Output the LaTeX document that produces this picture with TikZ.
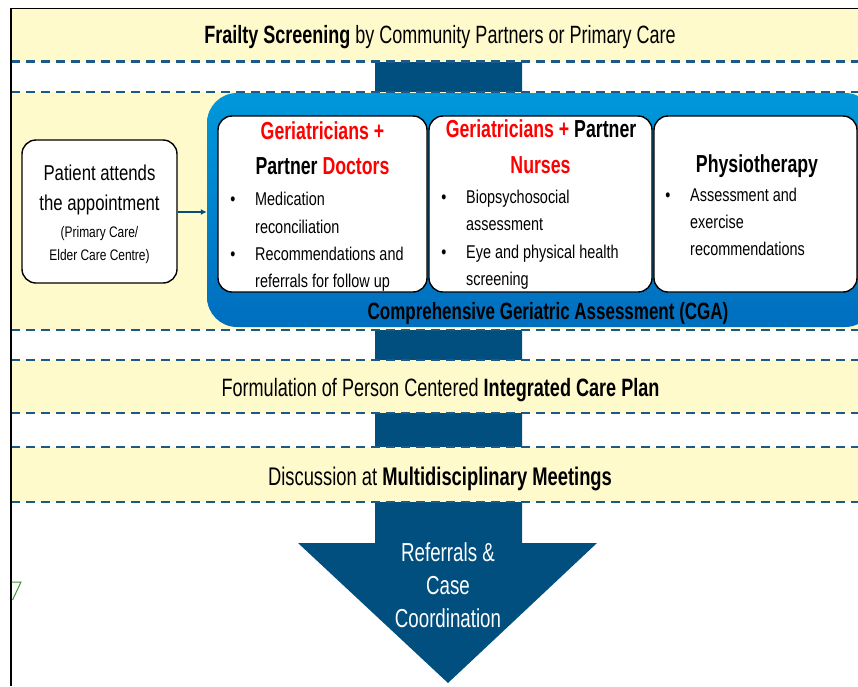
\documentclass[tikz,border=0pt]{standalone}
\usepackage{fontspec}
\setmainfont{Liberation Sans}[FakeStretch=0.72]
\newfontfamily\bodyfont{Liberation Sans}[FakeStretch=0.78]
\usetikzlibrary{arrows.meta}
\definecolor{bandyellow}{RGB}{255,250,204}
\definecolor{navy}{RGB}{0,79,127}
\definecolor{dashblue}{RGB}{28,88,136}
\definecolor{cgatop}{RGB}{0,152,218}
\definecolor{cgabot}{RGB}{0,110,190}
\definecolor{hred}{RGB}{255,0,0}
\definecolor{markgreen}{RGB}{60,150,50}
\tikzset{
  band/.style={fill=bandyellow, draw=none},
  dashline/.style={draw=dashblue, line width=2.5pt, dash pattern=on 9pt off 6pt},
  whitebox/.style={draw=black, line width=1.4pt, fill=white, rounded corners=14pt, inner sep=0},
  hdr/.style={font=\fontsize{24.6}{28}\selectfont\bfseries, inner sep=0, anchor=base},
  band text/.style={font=\fontsize{25}{28}\selectfont, inner sep=0, anchor=base},
  body/.style={font=\bodyfont\fontsize{18.5}{22}\selectfont, inner sep=0, anchor=base west},
  bul/.style={font=\bodyfont\fontsize{18.5}{22}\selectfont, inner sep=0, anchor=base},
  ptext/.style={font=\bodyfont\fontsize{21.5}{25}\selectfont, inner sep=0, anchor=base},
  psmall/.style={font=\bodyfont\fontsize{15.3}{18}\selectfont, inner sep=0, anchor=base},
  reftext/.style={font=\fontsize{26}{30}\selectfont, text=white, inner sep=0, anchor=base},
}
\begin{document}
\begin{tikzpicture}[x=1pt,y=-1pt]
\useasboundingbox (0,0) rectangle (858,686);
\clip (0,0) rectangle (858,686);
% big flow arrow
\path[fill=navy] (375,60) -- (522,60) -- (522,543) -- (597,543) -- (448,683) -- (298,543) -- (375,543) -- cycle;
% bands
\fill[band] (11,9) rectangle (858,61.5);
\fill[band] (11,92) rectangle (858,330);
\fill[band] (11,360) rectangle (858,413);
\fill[band] (11,447) rectangle (858,502);
% dashed borders
\foreach \yy in {61.5,92,330,360,413,447,502}
  \draw[dashline] (11,\yy) -- (858,\yy);
% frame
\draw[black, line width=1.3pt] (11,686) -- (11,8.5) -- (858,8.5);
% top band text
\node[band text] (frailty) at (440,43) {\textbf{Frailty Screening} by Community Partners or Primary Care};
% CGA container
\node[draw=none, rounded corners=30pt, top color=cgatop, bottom color=cgabot, minimum width=668pt, minimum height=234pt, inner sep=0] (cga) at (541,210) {};
\node[font=\fontsize{23.6}{27}\selectfont\bfseries, inner sep=0, anchor=base] (cgalabel) at (548,319.5) {Comprehensive Geriatric Assessment (CGA)};
% left box
\node[whitebox, minimum width=155pt, minimum height=143pt] (patient) at (99.5,211.5) {};
\node[ptext] (p1) at (99.5,180) {Patient attends};
\node[ptext] (p2) at (99.5,210.5) {the appointment};
\node[psmall] (p3) at (99.5,237) {(Primary Care/};
\node[psmall] (p4) at (99.5,260) {Elder Care Centre)};
\draw[navy, line width=1.3pt, -{Latex[length=6pt,width=6pt]}] (patient.east |- 0,212) -- (cga.west |- 0,212);
% box 1
\node[whitebox, minimum width=209pt, minimum height=176pt] (doc) at (322.5,204) {};
\node[hdr, text=hred] (doch1) at (322.5,139.5) {Geriatricians +};
\node[hdr] (doch2) at (322.5,174.5) {Partner \textcolor{hred}{Doctors}};
\node[bul] (db1) at (233,205.5) {\textbullet};
\node[body] (dl1) at (255,205.5) {Medication};
\node[body] (dl2) at (255,233) {reconciliation};
\node[bul] (db2) at (233,260) {\textbullet};
\node[body] (dl3) at (255,260) {Recommendations and};
\node[body] (dl4) at (255,287) {referrals for follow up};
% box 2
\node[whitebox, minimum width=223pt, minimum height=176pt] (nurse) at (540.5,204) {};
\node[hdr] (nh1) at (541,137.5) {\textcolor{hred}{Geriatricians +} Partner};
\node[hdr, text=hred] (nh2) at (540.5,173) {Nurses};
\node[bul] (nb1) at (444,203) {\textbullet};
\node[body] (nl1) at (466,203) {Biopsychosocial};
\node[body] (nl2) at (466,230) {assessment};
\node[bul] (nb2) at (444,258) {\textbullet};
\node[body] (nl3) at (466,258) {Eye and physical health};
\node[body] (nl4) at (466,285) {screening};
% box 3
\node[whitebox, minimum width=203pt, minimum height=176pt] (physio) at (755.5,204) {};
\node[hdr] (ph1) at (757,172) {Physiotherapy};
\node[bul] (pb1) at (668,201.5) {\textbullet};
\node[body] (pl1) at (690,201.5) {Assessment and};
\node[body] (pl2) at (690,228.5) {exercise};
\node[body] (pl3) at (690,255.5) {recommendations};
% lower bands
\node[band text, font=\fontsize{25.1}{28}\selectfont] (icp) at (440.5,396) {Formulation of Person Centered \textbf{Integrated Care Plan}};
\node[band text, font=\fontsize{25.5}{28}\selectfont] (mdm) at (440,485) {Discussion at \textbf{Multidisciplinary Meetings}};
% referrals text in arrow head
\node[reftext] (r1) at (448,561) {Referrals \&};
\node[reftext] (r2) at (448,594) {Case};
\node[reftext] (r3) at (448,627.5) {Coordination};
% small green mark at left edge
\draw[markgreen, line width=1pt] (11.5,582) -- (21,582) -- (12.5,600);
\end{tikzpicture}
\end{document}
